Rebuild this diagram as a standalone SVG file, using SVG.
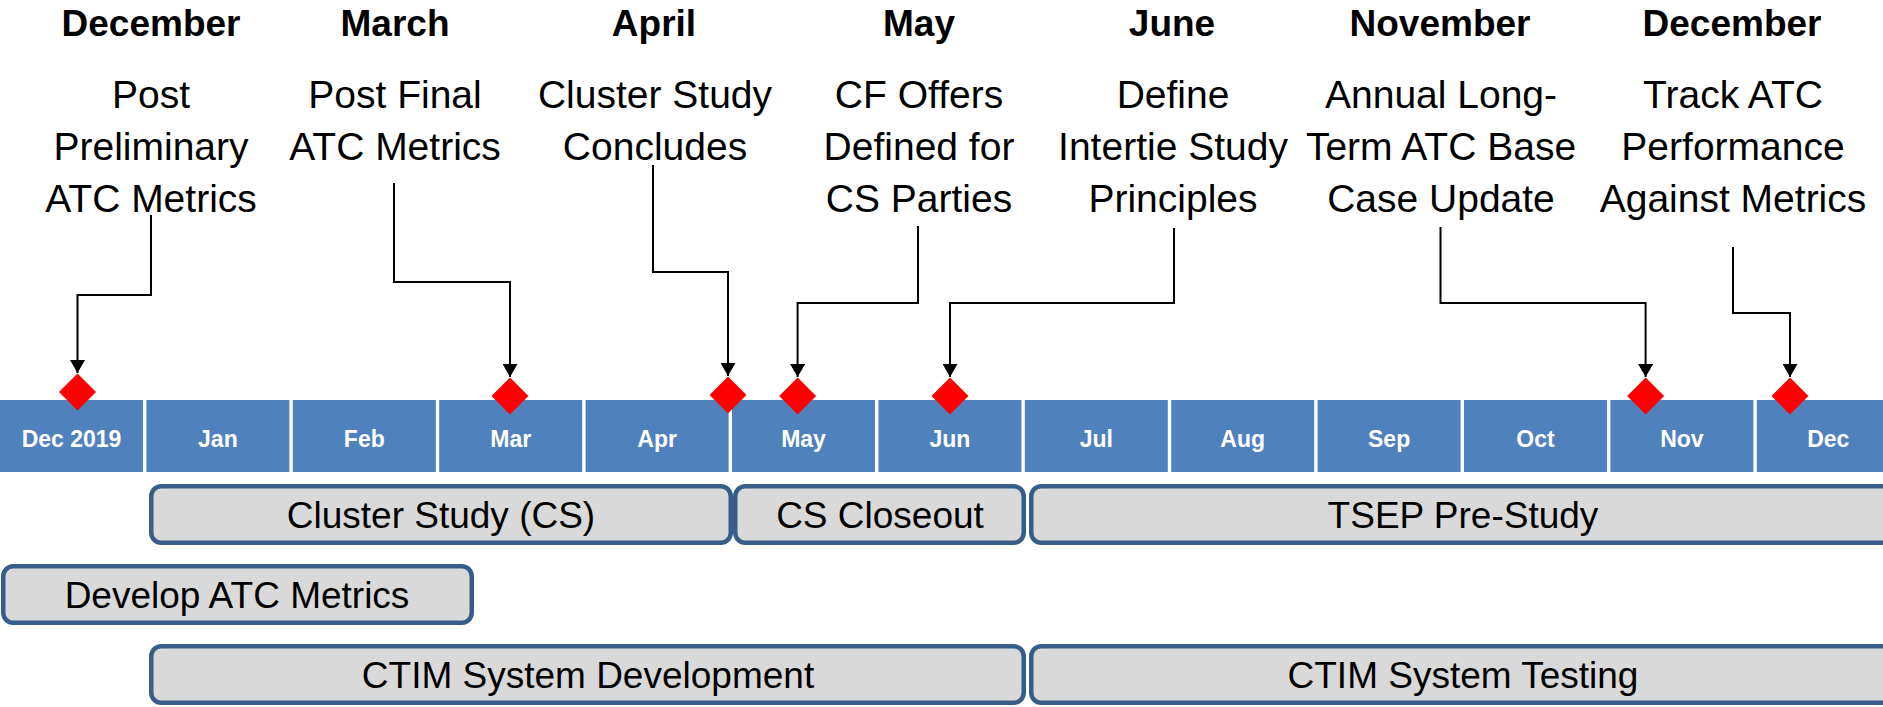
<svg xmlns="http://www.w3.org/2000/svg" width="1883" height="707" viewBox="0 0 1883 707">
<style>
.hdr{font-family:"Liberation Sans",Arial,sans-serif;font-weight:bold;font-size:37px;fill:#000;text-anchor:middle}
.desc{font-family:"Liberation Sans",Arial,sans-serif;font-size:39px;fill:#000;text-anchor:middle}
.cell{fill:#4F81BD}
.mon{font-family:"Liberation Sans",Arial,sans-serif;font-weight:bold;font-size:23px;fill:#fff;text-anchor:middle}
.bar{fill:#D9D9D9;stroke:#385D8A;stroke-width:4.5}
.btxt{font-family:"Liberation Sans",Arial,sans-serif;font-size:37px;fill:#000;text-anchor:middle}
.dia{fill:#FF0000}
.conn{fill:none;stroke:#000;stroke-width:2}
</style>
<defs>
<marker id="arr" viewBox="0 0 13 15" refX="13" refY="7.5" markerUnits="userSpaceOnUse" markerWidth="13" markerHeight="15" orient="auto">
<path d="M0,0 L13,7.5 L0,15 z" fill="#000"/>
</marker>
</defs>
<rect width="1883" height="707" fill="#fff"/>
<g id="timeline">
<rect class="cell" x="0" y="400" width="143" height="72"/>
<rect class="cell" x="146.4" y="400" width="143" height="72"/>
<rect class="cell" x="292.8" y="400" width="143" height="72"/>
<rect class="cell" x="439.2" y="400" width="143" height="72"/>
<rect class="cell" x="585.6" y="400" width="143" height="72"/>
<rect class="cell" x="732" y="400" width="143" height="72"/>
<rect class="cell" x="878.4" y="400" width="143" height="72"/>
<rect class="cell" x="1024.8" y="400" width="143" height="72"/>
<rect class="cell" x="1171.2" y="400" width="143" height="72"/>
<rect class="cell" x="1317.6" y="400" width="143" height="72"/>
<rect class="cell" x="1464" y="400" width="143" height="72"/>
<rect class="cell" x="1610.4" y="400" width="143" height="72"/>
<rect class="cell" x="1756.8" y="400" width="143" height="72"/>
<text class="mon" x="71.5" y="447">Dec 2019</text>
<text class="mon" x="217.9" y="447">Jan</text>
<text class="mon" x="364.3" y="447">Feb</text>
<text class="mon" x="510.7" y="447">Mar</text>
<text class="mon" x="657.1" y="447">Apr</text>
<text class="mon" x="803.5" y="447">May</text>
<text class="mon" x="949.9" y="447">Jun</text>
<text class="mon" x="1096.3" y="447">Jul</text>
<text class="mon" x="1242.7" y="447">Aug</text>
<text class="mon" x="1389.1" y="447">Sep</text>
<text class="mon" x="1535.5" y="447">Oct</text>
<text class="mon" x="1681.9" y="447">Nov</text>
<text class="mon" x="1828.3" y="447">Dec</text>
</g>
<g id="connectors">
<path class="conn" d="M151,215 V295 H77.5 V373" marker-end="url(#arr)"/>
<path class="conn" d="M394,183 V282 H510 V377" marker-end="url(#arr)"/>
<path class="conn" d="M653,165 V272 H728 V376" marker-end="url(#arr)"/>
<path class="conn" d="M918,226 V303 H797.6 V377" marker-end="url(#arr)"/>
<path class="conn" d="M1174,228 V303 H950 V377" marker-end="url(#arr)"/>
<path class="conn" d="M1440.5,227 V303 H1645.6 V377" marker-end="url(#arr)"/>
<path class="conn" d="M1733,247 V313 H1790 V377" marker-end="url(#arr)"/>
</g>
<g id="m-dec2019">
<text class="hdr" x="151" y="36">December</text>
<text class="desc" x="151" y="108">Post</text>
<text class="desc" x="151" y="160">Preliminary</text>
<text class="desc" x="151" y="212">ATC Metrics</text>
<path class="dia" d="M77.5,373.5 L96,392 L77.5,410.5 L59,392 z"/>
</g>
<g id="m-mar">
<text class="hdr" x="395" y="36">March</text>
<text class="desc" x="395" y="108">Post Final</text>
<text class="desc" x="395" y="160">ATC Metrics</text>
<path class="dia" d="M510,377.5 L528.5,396 L510,414.5 L491.5,396 z"/>
</g>
<g id="m-apr">
<text class="hdr" x="654" y="36">April</text>
<text class="desc" x="655" y="108">Cluster Study</text>
<text class="desc" x="655" y="160">Concludes</text>
<path class="dia" d="M728,376.5 L746.5,395 L728,413.5 L709.5,395 z"/>
</g>
<g id="m-may">
<text class="hdr" x="919" y="36">May</text>
<text class="desc" x="919" y="108">CF Offers</text>
<text class="desc" x="919" y="160">Defined for</text>
<text class="desc" x="919" y="212">CS Parties</text>
<path class="dia" d="M797.6,377.5 L816.1,396 L797.6,414.5 L779.1,396 z"/>
</g>
<g id="m-jun">
<text class="hdr" x="1172" y="36">June</text>
<text class="desc" x="1173" y="108">Define</text>
<text class="desc" x="1173" y="160">Intertie Study</text>
<text class="desc" x="1173" y="212">Principles</text>
<path class="dia" d="M950,377.5 L968.5,396 L950,414.5 L931.5,396 z"/>
</g>
<g id="m-nov">
<text class="hdr" x="1440" y="36">November</text>
<text class="desc" x="1441" y="108">Annual Long-</text>
<text class="desc" x="1441" y="160">Term ATC Base</text>
<text class="desc" x="1441" y="212">Case Update</text>
<path class="dia" d="M1645.6,377.5 L1664.1,396 L1645.6,414.5 L1627.1,396 z"/>
</g>
<g id="m-dec2020">
<text class="hdr" x="1732" y="36">December</text>
<text class="desc" x="1733" y="108">Track ATC</text>
<text class="desc" x="1733" y="160">Performance</text>
<text class="desc" x="1733" y="212">Against Metrics</text>
<path class="dia" d="M1790,377.5 L1808.5,396 L1790,414.5 L1771.5,396 z"/>
</g>
<g id="b-cluster">
<rect class="bar" x="151.25" y="486.25" width="579.5" height="56.5" rx="10"/>
<text class="btxt" x="441" y="528">Cluster Study (CS)</text>
</g>
<g id="b-closeout">
<rect class="bar" x="735.25" y="486.25" width="288.5" height="56.5" rx="10"/>
<text class="btxt" x="880" y="528">CS Closeout</text>
</g>
<g id="b-tsep">
<rect class="bar" x="1031.25" y="486.25" width="900" height="56.5" rx="10"/>
<text class="btxt" x="1463" y="528">TSEP Pre-Study</text>
</g>
<g id="b-develop">
<rect class="bar" x="3.25" y="566.25" width="468.5" height="56.5" rx="10"/>
<text class="btxt" x="237" y="608">Develop ATC Metrics</text>
</g>
<g id="b-ctimdev">
<rect class="bar" x="151.25" y="646.25" width="872.5" height="56.5" rx="10"/>
<text class="btxt" x="588" y="688">CTIM System Development</text>
</g>
<g id="b-ctimtest">
<rect class="bar" x="1031.25" y="646.25" width="900" height="56.5" rx="10"/>
<text class="btxt" x="1463" y="688">CTIM System Testing</text>
</g>
</svg>
